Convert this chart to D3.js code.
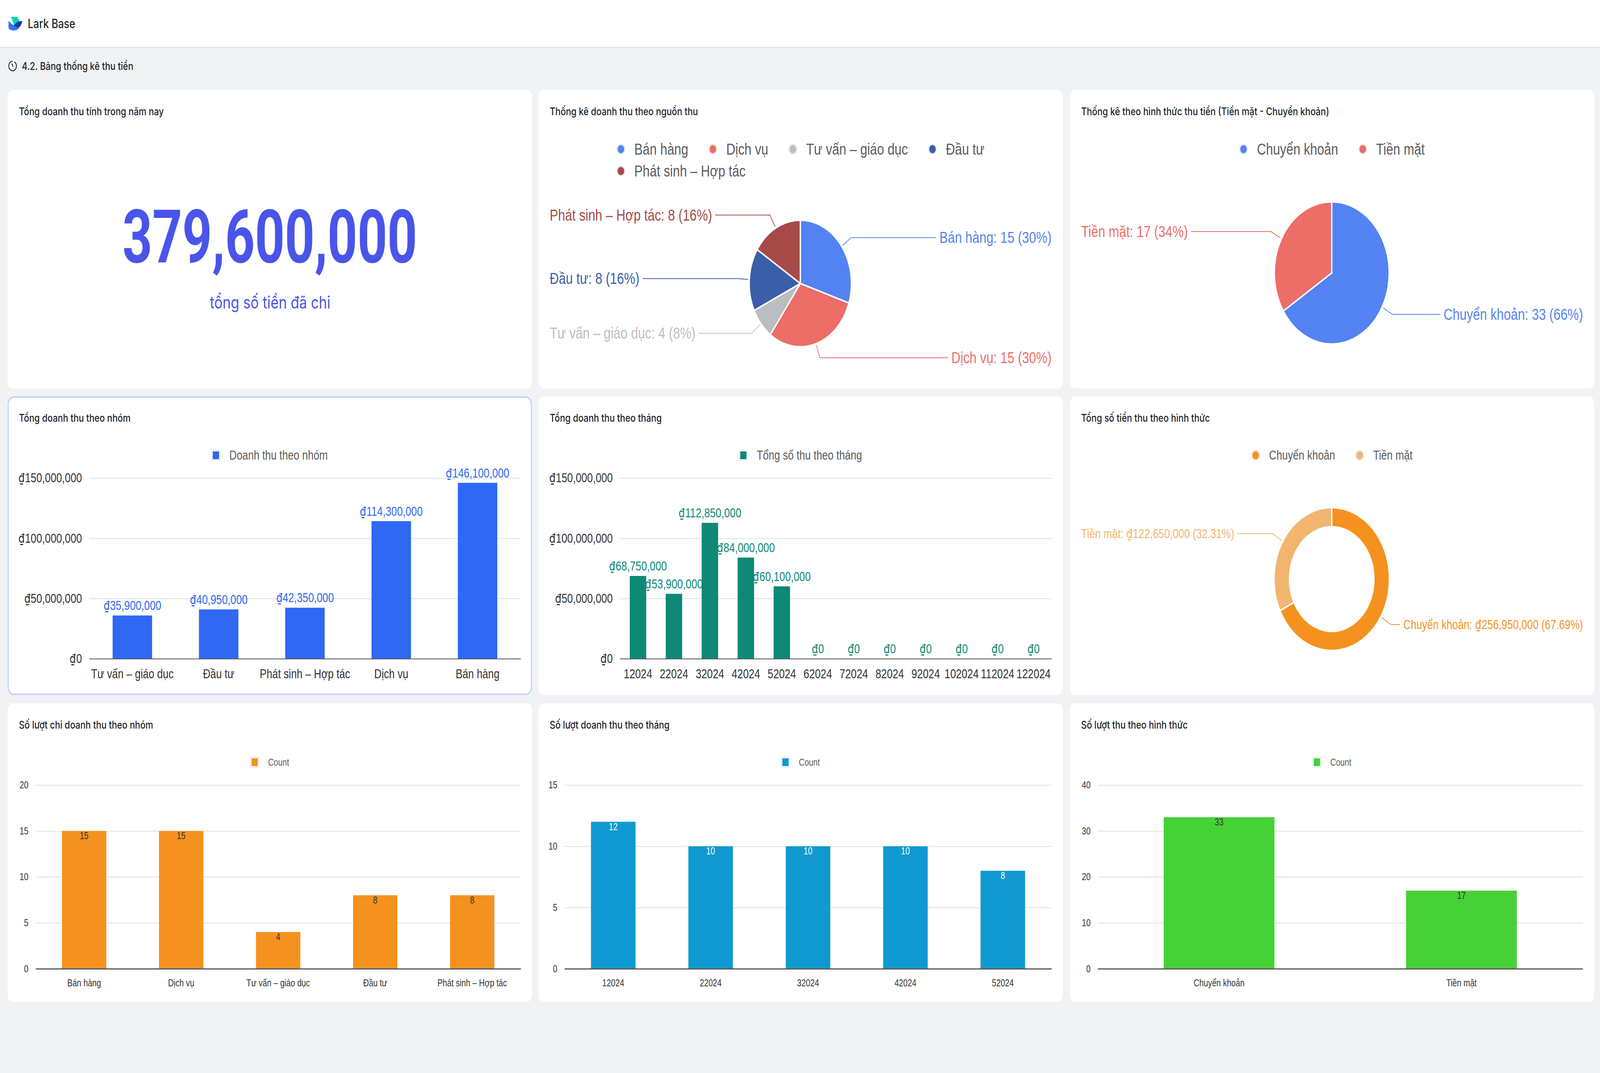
<!DOCTYPE html>
<html>
<head>
<meta charset="utf-8">
<script src="https://cdn.jsdelivr.net/npm/d3@7"></script>
<style>
    @font-face { font-family: "Dong"; src: local("DejaVu Sans"); unicode-range: U+20AB; }
    html, body { margin: 0; padding: 0; background: #f1f2f4; overflow: hidden; }
    svg { display: block; }
    .ui { font-family: Inter, "Noto Sans", sans-serif; }
    .chart text { font-family: Dong, "Liberation Sans", Arial, sans-serif; }
</style>
</head>
<body>
<svg></svg>
<script>
// data
const groups_value = ["Tư vấn – giáo dục", "Đầu tư", "Phát sinh – Hợp tác", "Dịch vụ", "Bán hàng"];
const groups_value_amounts = [35900000, 40950000, 42350000, 114300000, 146100000];
const months_all = ["12024", "22024", "32024", "42024", "52024", "62024", "72024", "82024", "92024", "102024", "112024", "122024"];
const months_all_amounts = [68750000, 53900000, 112850000, 84000000, 60100000, 0, 0, 0, 0, 0, 0, 0];
const money_ticks = [0, 50000000, 100000000, 150000000];

const sources = ["Bán hàng", "Dịch vụ", "Tư vấn – giáo dục", "Đầu tư", "Phát sinh – Hợp tác"];
const sources_count = [15, 15, 4, 8, 8];
const sources_colors = ["#5383f3", "#ed6d67", "#bbbec1", "#3b5ea9", "#a64a48"];

const methods = ["Chuyển khoản", "Tiền mặt"];
const methods_count = [33, 17];
const methods_colors = ["#5383f3", "#ed6d67"];
const methods_amounts = [256950000, 122650000];
const methods_amounts_colors = ["#f5921f", "#f2b56f"];

const months_short = ["12024", "22024", "32024", "42024", "52024"];
const months_short_count = [12, 10, 10, 10, 8];
const count_ticks_groups = [0, 5, 10, 15, 20];
const count_ticks_months = [0, 5, 10, 15];
const count_ticks_methods = [0, 10, 20, 30, 40];

const total_revenue = 379600000;

const page_width = 5076;
const page_height = 2748;
const col_x = [24, 1708, 3394];
const card_width = 1664;
const row_y = [230, 1015, 1801];
const card_height = 765;

const money = v => "₫" + d3.format(",")(v);

// the drawing is laid out in reference pixels and fitted to the window
const svg = d3
    .select("svg")
    .attr("width", window.innerWidth)
    .attr("height", window.innerHeight)
    .attr("viewBox", "0 0 " + page_width + " " + page_height)
    .attr("preserveAspectRatio", "none");

svg.append("rect")
    .attr("width", page_width)
    .attr("height", page_height)
    .attr("fill", "#f1f2f4");

draw_header();

function draw_header() {
    svg.append("rect")
        .attr("width", page_width)
        .attr("height", 120)
        .attr("fill", "#fff");
    svg.append("rect")
        .attr("y", 120)
        .attr("width", page_width)
        .attr("height", 2)
        .attr("fill", "#dee0e3");

    // logo
    const logo = svg.append("g");
    logo.append("path")
        .attr("d", "M34 43 L55 43 Q60 50 63 58 Q52 60 45 66 Q41 53 34 43 Z")
        .attr("fill", "#00d6b9");
    logo.append("path")
        .attr("d", "M27 53 Q36 62 45 65 Q52 69 61 70 Q57 78 44 78 Q33 78 27 73 Z")
        .attr("fill", "#3370ff");
    logo.append("path")
        .attr("d", "M44 66 Q52 53 71 54 Q68 65 61 70 Q52 71 44 66 Z")
        .attr("fill", "#133c9a");

    svg.append("text")
        .attr("class", "ui")
        .attr("x", 88)
        .attr("y", 72)
        .attr("font-size", 32)
        .attr("font-weight", 500)
        .attr("fill", "#1f2329")
        .text("Lark Base");

    // clock icon
    const icon = svg.append("g").attr("transform", "translate(40,169)");
    icon.append("path")
        .attr("d", d3.arc()({ innerRadius: 11, outerRadius: 13.5, startAngle: 0.5, endAngle: Math.PI * 2 }))
        .attr("fill", "#1f2329");
    icon.append("path")
        .attr("d", "M-2 -6 L1 2")
        .attr("stroke", "#1f2329")
        .attr("stroke-width", 2.5)
        .attr("fill", "none");

    svg.append("text")
        .attr("class", "ui")
        .attr("x", 69)
        .attr("y", 179)
        .attr("font-size", 27.6)
        .attr("font-weight", 500)
        .attr("fill", "#1f2329")
        .text("4.2. Bảng thống kê thu tiền");
}

function add_card(col, row, title, selected) {
    const g = svg.append("g")
        .attr("transform", "translate(" + col_x[col] + "," + row_y[row] + ")");
    g.append("rect")
        .attr("x", selected ? 2 : 0)
        .attr("y", selected ? 2 : 0)
        .attr("width", card_width - (selected ? 4 : 0))
        .attr("height", card_height - (selected ? 4 : 0))
        .attr("rx", 18)
        .attr("fill", "#fff")
        .attr("stroke", selected ? "#c3d5fd" : "none")
        .attr("stroke-width", 4);
    g.append("text")
        .attr("class", "ui")
        .attr("x", 36)
        .attr("y", 65)
        .attr("font-size", 27.6)
        .attr("font-weight", 500)
        .attr("fill", "#1f2329")
        .text(title);
    return g.append("g").attr("class", "chart");
}

// legend, centred on the card and wrapped when it does not fit
function add_legend(g, names, colors, shape, font_size, y, row_gap) {
    const max_width = 1300;
    const symbol_half = 13;
    const legend = g.append("g");
    const rows = [[]];
    let cursor = 0;
    names.forEach((name, i) => {
        const item = legend.append("g");
        if (shape == "circle") {
            item.append("circle").attr("r", 12.5).attr("fill", "#fff")
                .attr("stroke", "#e3e5e8").attr("stroke-width", 2.5);
            item.append("circle").attr("r", 10.5).attr("fill", colors[i]);
        } else {
            item.append("rect").attr("x", -13).attr("y", -13).attr("width", 26).attr("height", 26)
                .attr("fill", "#fff").attr("stroke", "#e3e5e8").attr("stroke-width", 2);
            item.append("rect").attr("x", -10).attr("y", -10).attr("width", 20).attr("height", 20)
                .attr("fill", colors[i]);
        }
        const label = item.append("text")
            .attr("x", 42.5)
            .attr("dy", "0.35em")
            .attr("font-size", font_size)
            .attr("fill", "#5b5b5b")
            .text(name);
        const w = 42.5 + label.node().getComputedTextLength();
        if (cursor + w > max_width && rows[rows.length - 1].length) {
            rows.push([]);
            cursor = 0;
        }
        rows[rows.length - 1].push({ item: item, x: cursor, end: cursor + w });
        cursor += w + 78;
    });
    const widest = d3.max(rows, r => d3.max(r, d => d.end)) + symbol_half;
    const left = (card_width - widest) / 2 + symbol_half;
    rows.forEach((r, j) => {
        r.forEach(d => {
            d.item.attr("transform", "translate(" + (left + d.x) + "," + (y + j * row_gap) + ")");
        });
    });
}

function draw_bars(o) {
    const g = add_card(o.col, o.row, o.title, o.selected);
    add_legend(g, [o.legend], [o.color], "square", o.font_size, o.legend_y, 0);

    const x = d3.scaleBand()
        .domain(o.categories)
        .range([o.left, card_width - 36 + (o.col == 2 ? -1 : 0)])
        .paddingInner(0.543)
        .paddingOuter(0.2715);
    const y = d3.scaleLinear()
        .domain([0, d3.max(o.ticks)])
        .range([o.bottom, o.top]);

    const y_axis = g.append("g")
        .attr("transform", "translate(" + o.left + ",0)")
        .call(d3.axisLeft(y)
            .tickValues(o.ticks)
            .tickFormat(o.format)
            .tickSize(-(card_width - 36 - o.left))
            .tickPadding(23));
    y_axis.select(".domain").remove();
    y_axis.selectAll("line").attr("stroke", "#e3e5e8").attr("stroke-width", 2.5);
    y_axis.selectAll("text").attr("font-size", o.font_size).attr("fill", "#333");

    // value labels sit under the bars, neighbouring bars clip them as in the original
    if (o.label_outside) {
        g.selectAll("text.value")
            .data(o.values)
            .enter()
            .append("text")
            .attr("class", "value")
            .attr("x", (d, i) => x(o.categories[i]) + x.bandwidth() / 2)
            .attr("y", d => y(d) - 14)
            .attr("text-anchor", "middle")
            .attr("font-size", o.font_size)
            .attr("fill", o.color)
            .text(o.format);
    }

    g.selectAll("rect.bar")
        .data(o.values)
        .enter()
        .append("rect")
        .attr("class", "bar")
        .attr("x", (d, i) => x(o.categories[i]))
        .attr("y", d => y(d))
        .attr("width", x.bandwidth())
        .attr("height", d => o.bottom - y(d))
        .attr("fill", o.color);

    if (!o.label_outside) {
        g.selectAll("text.inside")
            .data(o.values)
            .enter()
            .append("text")
            .attr("class", "inside")
            .attr("x", (d, i) => x(o.categories[i]) + x.bandwidth() / 2)
            .attr("y", d => y(d) + 21)
            .attr("text-anchor", "middle")
            .attr("font-size", o.font_size)
            .attr("fill", o.label_color)
            .text(d => d);
    }

    const x_axis = g.append("g")
        .attr("transform", "translate(0," + o.bottom + ")")
        .call(d3.axisBottom(x).tickSize(0).tickPadding(27));
    x_axis.select(".domain").attr("stroke", "#55565b").attr("stroke-width", o.axis_width);
    x_axis.selectAll("text").attr("font-size", o.font_size).attr("fill", "#333");
}

function draw_pie(o) {
    const g = add_card(o.col, o.row, o.title);
    add_legend(g, o.names, o.colors, "circle", o.legend_size, o.legend_y, 56);

    const arcs = d3.pie().sort(null)(o.values);
    const arc = d3.arc().innerRadius(o.inner).outerRadius(o.radius);
    const total = d3.sum(o.values);
    const pie = g.append("g")
        .attr("transform", "translate(" + o.cx + "," + o.cy + ")");

    pie.selectAll("path")
        .data(arcs)
        .enter()
        .append("path")
        .attr("d", arc)
        .attr("fill", (d, i) => o.colors[i])
        .attr("stroke", "#fff")
        .attr("stroke-width", 4);

    arcs.forEach((d, i) => {
        const mid = (d.startAngle + d.endAngle) / 2;
        const sin = Math.sin(mid);
        const cos = Math.cos(mid);
        const right = sin > 0;
        const elbow_x = sin * (o.radius + 38);
        const elbow_y = -cos * (o.radius + 38);
        const edge = right ? card_width - 36 - o.cx : 36 - o.cx;

        const label = pie.append("text")
            .attr("x", edge)
            .attr("y", elbow_y)
            .attr("dy", "0.35em")
            .attr("text-anchor", right ? "end" : "start")
            .attr("font-size", o.label_size)
            .attr("fill", o.colors[i])
            .text(o.names[i] + ": " + o.format(d.value) + " (" + o.percent(d.value / total) + ")");
        const w = label.node().getComputedTextLength();
        const line_end = right ? edge - w - 10 : edge + w + 10;

        pie.append("path")
            .attr("d", d3.line()([
                [sin * (o.radius + 4), -cos * (o.radius + 4)],
                [elbow_x, elbow_y],
                [line_end, elbow_y]
            ]))
            .attr("fill", "none")
            .attr("stroke", o.colors[i])
            .attr("stroke-width", 2);
    });
}

// first card, the total
const total_card = add_card(0, 0, "Tổng doanh thu tính trong năm nay");
total_card.append("text")
    .style("font-family", "Roboto")
    .attr("x", 832)
    .attr("y", 442)
    .attr("text-anchor", "middle")
    .attr("font-size", 190)
    .attr("font-weight", 700)
    .attr("textLength", 935)
    .attr("lengthAdjust", "spacingAndGlyphs")
    .attr("fill", "#4955e8")
    .text(d3.format(",")(total_revenue));
total_card.append("text")
    .style("font-family", "Inter")
    .attr("x", 833)
    .attr("y", 560)
    .attr("text-anchor", "middle")
    .attr("font-size", 44)
    .attr("fill", "#4955e8")
    .text("tổng số tiền đã chi");

draw_pie({
    col: 1, row: 0, title: "Thống kê doanh thu theo nguồn thu",
    names: sources, values: sources_count, colors: sources_colors,
    cx: 831, cy: 496, radius: 162, inner: 0,
    legend_size: 40, label_size: 40, legend_y: 152,
    format: d => d, percent: d3.format(".0%")
});

draw_pie({
    col: 2, row: 0, title: "Thống kê theo hình thức thu tiền (Tiền mặt - Chuyển khoản)",
    names: methods, values: methods_count, colors: methods_colors,
    cx: 831, cy: 469, radius: 182, inner: 0,
    legend_size: 40, label_size: 40, legend_y: 152,
    format: d => d, percent: d3.format(".0%")
});

draw_bars({
    col: 0, row: 1, title: "Tổng doanh thu theo nhóm", selected: true,
    categories: groups_value, values: groups_value_amounts, ticks: money_ticks,
    legend: "Doanh thu theo nhóm", color: "#2e68f3", format: money,
    left: 259, top: 209.5, bottom: 672, font_size: 32.5, legend_y: 151,
    label_outside: true, axis_width: 2
});

draw_bars({
    col: 1, row: 1, title: "Tổng doanh thu theo tháng",
    categories: months_all, values: months_all_amounts, ticks: money_ticks,
    legend: "Tổng số thu theo tháng", color: "#0f8875", format: money,
    left: 259, top: 209.5, bottom: 672, font_size: 32.5, legend_y: 151,
    label_outside: true, axis_width: 2
});

draw_pie({
    col: 2, row: 1, title: "Tổng số tiền thu theo hình thức",
    names: methods, values: methods_amounts, colors: methods_amounts_colors,
    cx: 831, cy: 468, radius: 183, inner: 134,
    legend_size: 32.5, label_size: 32.5, legend_y: 151,
    format: money, percent: d3.format(".2%")
});

draw_bars({
    col: 0, row: 2, title: "Số lượt chi doanh thu theo nhóm",
    categories: sources, values: sources_count, ticks: count_ticks_groups,
    legend: "Count", color: "#f5921f", format: d => d,
    left: 89, top: 209.5, bottom: 680, font_size: 25, legend_y: 151,
    label_outside: false, label_color: "#333", axis_width: 3
});

draw_bars({
    col: 1, row: 2, title: "Số lượt doanh thu theo tháng",
    categories: months_short, values: months_short_count, ticks: count_ticks_months,
    legend: "Count", color: "#1099d0", format: d => d,
    left: 83, top: 209.5, bottom: 680, font_size: 25, legend_y: 151,
    label_outside: false, label_color: "#fff", axis_width: 3
});

draw_bars({
    col: 2, row: 2, title: "Số lượt thu theo hình thức",
    categories: methods, values: methods_count, ticks: count_ticks_methods,
    legend: "Count", color: "#46d136", format: d => d,
    left: 89, top: 209.5, bottom: 680, font_size: 25, legend_y: 151,
    label_outside: false, label_color: "#333", axis_width: 3
});
</script>
</body>
</html>
